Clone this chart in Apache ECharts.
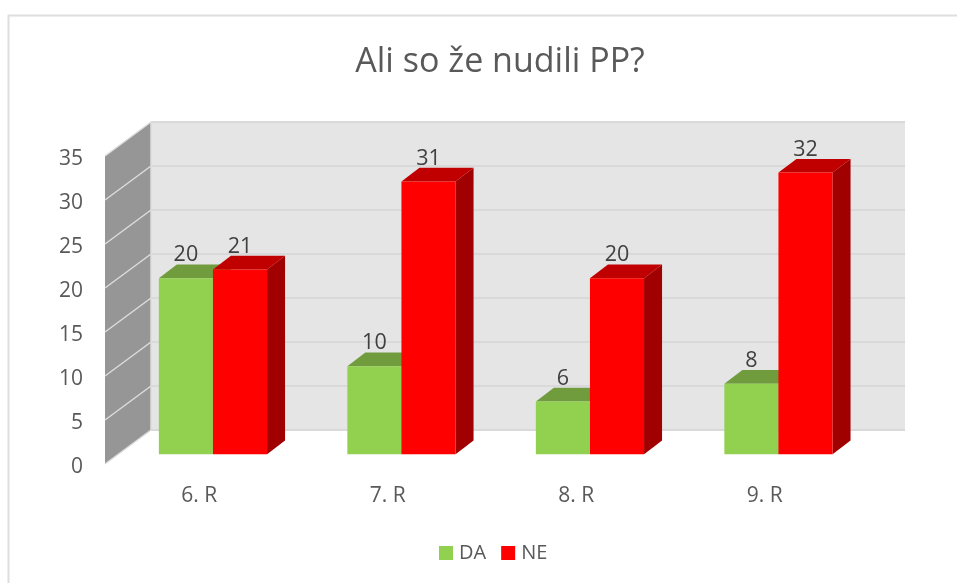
<!DOCTYPE html>
<html>
<head>
<meta charset="utf-8">
<style>
  html, body { margin: 0; padding: 0; background: #fff; overflow: hidden; }
  #main { width: 957px; height: 583px; }
</style>
<script src="https://cdn.jsdelivr.net/npm/echarts@6/dist/echarts.min.js"></script>
</head>
<body>
<div id="main"></div>
<script>
var categories = ["6. R", "7. R", "8. R", "9. R"];
var da = [20, 10, 6, 8];
var ne = [21, 31, 20, 32];
var wallTicks = [0, 5, 10, 15, 20, 25, 30, 35];

var fontName = "'Open Sans', sans-serif";
// fake 3D: back wall sits up and to the right of the front plane
var wallDepth = [46, 34];
var barShift = [13.7, -9.8];
var barDepth = [18, 13.7];
var barShare = 0.287;

function poly(points, color) {
  return { type: "polygon", shape: { points: points }, style: { fill: color } };
}

function wallItem(params, api) {
  var p = api.coord([0, api.value(0)]);
  var x = params.coordSys.x;
  var y = p[1];
  var children = [{
    type: "line",
    shape: { x1: x, y1: y, x2: x + wallDepth[0], y2: y - wallDepth[1] },
    style: { stroke: "#dcdcdc", lineWidth: 1.5 }
  }];
  if (params.dataIndex === 0) {
    var top = params.coordSys.y;
    children.unshift(poly([
      [x, top], [x + wallDepth[0], top - wallDepth[1]],
      [x + wallDepth[0], y - wallDepth[1]], [x, y]
    ], "#969696"));
    children.push({
      type: "line",
      shape: { x1: x + wallDepth[0], y1: top - wallDepth[1], x2: x + wallDepth[0], y2: y - wallDepth[1] },
      style: { stroke: "#dcdcdc", lineWidth: 1.5 }
    });
  }
  return { type: "group", children: children };
}

function barItem(side, front, topColor, sideColor) {
  return function (params, api) {
    var i = api.value(0);
    var v = api.value(1);
    var c = api.coord([i, v]);
    var base = api.coord([i, 0]);
    var w = api.size([1, 0])[0] * barShare;
    var x0 = c[0] + barShift[0] + (side < 0 ? -w : 0);
    var x1 = x0 + w;
    var yT = c[1] + barShift[1];
    var yB = base[1] + barShift[1];
    var dx = barDepth[0];
    var dy = barDepth[1];
    return {
      type: "group",
      children: [
        poly([[x1, yT], [x1 + dx, yT - dy], [x1 + dx, yB - dy], [x1, yB]], sideColor),
        poly([[x0, yT], [x0 + dx, yT - dy], [x1 + dx, yT - dy], [x1, yT]], topColor),
        poly([[x0, yT], [x1, yT], [x1, yB], [x0, yB]], front),
        {
          type: "text",
          style: {
            text: String(v),
            x: (x0 + x1) / 2,
            y: yT - 23,
            align: "center",
            verticalAlign: "middle",
            fill: "#404040",
            font: "21.5px " + fontName
          }
        }
      ]
    };
  };
}

function pairs(values) {
  return values.map(function (v, i) { return [i, v]; });
}

var myChart = echarts.init(document.getElementById("main"));
var option = {
  animation: false,
  backgroundColor: "#fff",
  title: {
    text: "Ali so že nudili PP?",
    left: 495,
    top: 40,
    textAlign: "center",
    textStyle: { color: "#595959", fontSize: 34, fontWeight: "normal", fontFamily: fontName }
  },
  legend: {
    data: ["DA", "NE"],
    left: 439,
    top: 543,
    padding: 0,
    icon: "rect",
    itemWidth: 14,
    itemHeight: 14,
    itemGap: 15,
    textStyle: { color: "#595959", fontSize: 20, fontFamily: fontName, padding: [0, 0, 0, 1] }
  },
  graphic: [{
    type: "rect",
    shape: { x: 8.5, y: 15.5, width: 1000, height: 700 },
    style: { fill: "none", stroke: "#dedede", lineWidth: 2 },
    z: -1
  }],
  grid: [
    { left: 105, top: 156, width: 754, height: 308 },
    { left: 151, top: 122, width: 754, height: 308, show: true, backgroundColor: "#e5e5e5", borderWidth: 0 }
  ],
  xAxis: [
    {
      type: "category",
      gridIndex: 0,
      data: categories,
      axisLine: { show: false },
      axisTick: { show: false },
      axisLabel: { color: "#595959", fontSize: 21, fontFamily: fontName, margin: 22 }
    },
    { type: "category", gridIndex: 1, data: categories, show: false }
  ],
  yAxis: [
    {
      type: "value",
      gridIndex: 0,
      min: 0,
      max: 35,
      interval: 5,
      axisLine: { show: false },
      axisTick: { show: false },
      splitLine: { show: false },
      // top-aligned with a short line height drops the labels a few px, as in the reference
      axisLabel: { color: "#595959", fontSize: 21, fontFamily: fontName, margin: 22, verticalAlign: "top", lineHeight: 7, showMinLabel: true, showMaxLabel: true }
    },
    {
      type: "value",
      gridIndex: 1,
      min: 0,
      max: 35,
      interval: 5,
      axisLine: { show: false },
      axisTick: { show: false },
      axisLabel: { show: false },
      splitLine: { show: true, lineStyle: { color: "#d9d9d9", width: 2 } }
    }
  ],
  series: [
    {
      type: "custom",
      name: "wall",
      xAxisIndex: 0,
      yAxisIndex: 0,
      renderItem: wallItem,
      encode: { y: 0 },
      data: wallTicks,
      silent: true,
      z: 3
    },
    {
      type: "custom",
      name: "DA",
      xAxisIndex: 0,
      yAxisIndex: 0,
      renderItem: barItem(-1, "#92d050", "#709c3e", "#5f8a30"),
      encode: { x: 0, y: 1 },
      itemStyle: { color: "#92d050" },
      data: pairs(da),
      z: 4
    },
    {
      type: "custom",
      name: "NE",
      xAxisIndex: 0,
      yAxisIndex: 0,
      renderItem: barItem(1, "#ff0000", "#c00000", "#a00000"),
      encode: { x: 0, y: 1 },
      itemStyle: { color: "#ff0000" },
      data: pairs(ne),
      z: 5
    }
  ]
};
myChart.setOption(option);
</script>
</body>
</html>
